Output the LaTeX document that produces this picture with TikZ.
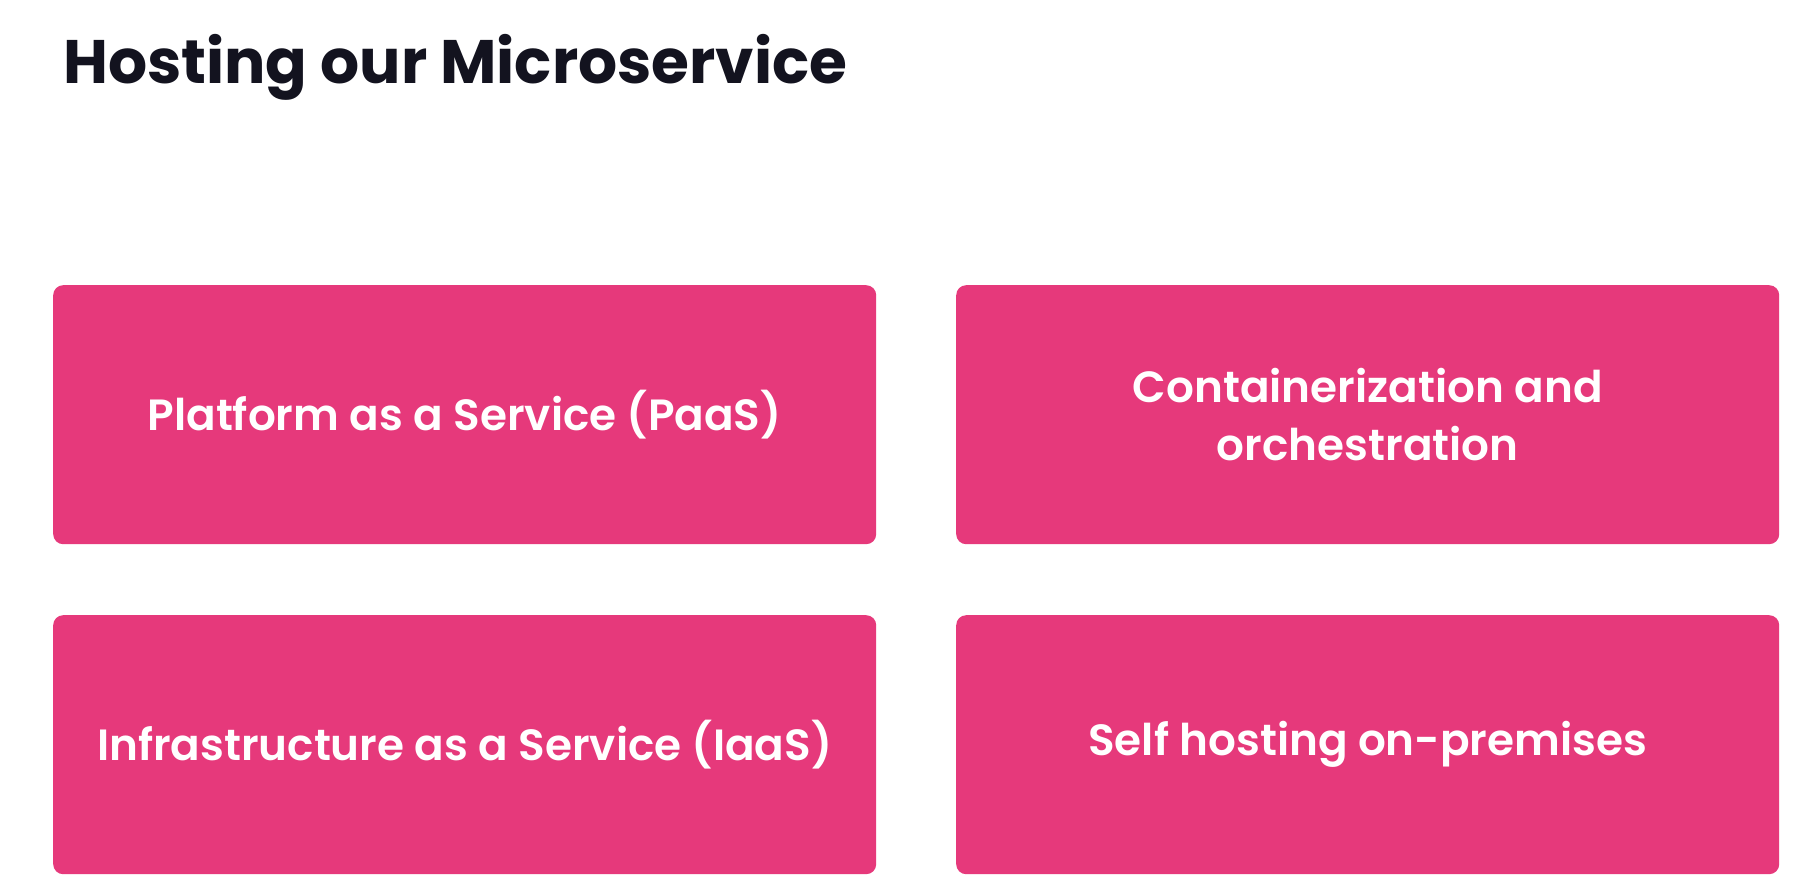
\documentclass[tikz,border=0pt]{standalone}
\usepackage{fontspec}
\setmainfont{Poppins}
\newfontfamily\cardfont{Poppins SemiBold}
\definecolor{boxpink}{HTML}{E6397B}
\definecolor{titleink}{HTML}{13131F}
\begin{document}
\begin{tikzpicture}[x=1pt,y=-1pt,
  card/.style={fill=boxpink, draw=none, rounded corners=10pt, minimum width=823pt, minimum height=259pt, anchor=north west, inner sep=0pt},
  cardtext/.style={text=white, font=\fontsize{43.7}{58}\cardfont, align=center}]
\useasboundingbox (0,0) rectangle (1807,891);
\fill[white] (0,0) rectangle (1807,891);
\node[anchor=base west, inner sep=0pt, text=titleink, font=\fontsize{61.4}{70}\selectfont\bfseries] (title) at (63,83) {Hosting our Microservice};
\node[card] (b1) at (53,285) {};
\node[card] (b2) at (956,285) {};
\node[card] (b3) at (53,615) {};
\node[card] (b4) at (956,615) {};
\node[cardtext] (t1) at (b1.center) {Platform as a Service (PaaS)};
\node[cardtext] (t2) at (b2.center) {Containerization and\\orchestration};
\node[cardtext] (t3) at (b3.center) {Infrastructure as a Service (IaaS)};
\node[cardtext] (t4) at (b4.center) {Self hosting on-premises};
\end{tikzpicture}
\end{document}
